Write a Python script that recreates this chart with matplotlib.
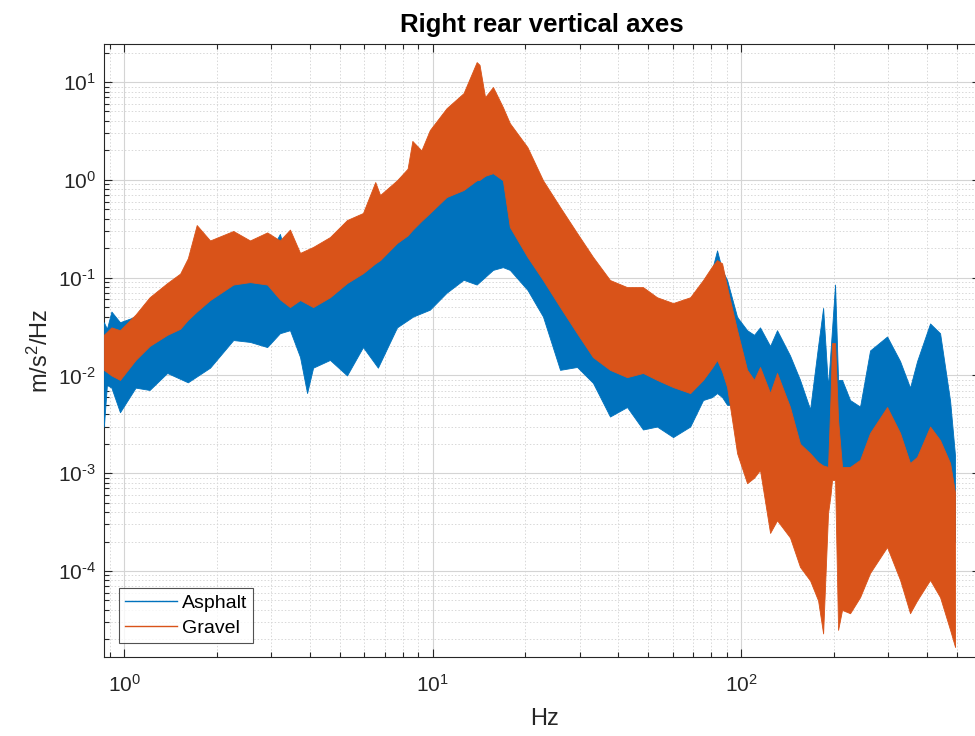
import matplotlib
matplotlib.use("Agg")
import matplotlib.pyplot as plt
from matplotlib.lines import Line2D
from matplotlib.ticker import LogLocator, NullFormatter, FixedLocator, FuncFormatter

plt.rcParams['font.family'] = ['Liberation Sans', 'DejaVu Sans']
plt.rcParams['mathtext.fontset'] = 'custom'
plt.rcParams['mathtext.rm'] = 'Liberation Sans'
plt.rcParams['mathtext.it'] = 'Liberation Sans:italic'
plt.rcParams['mathtext.bf'] = 'Liberation Sans:bold'

# ---- PSD envelopes (frequency in Hz, PSD in m/s^2/Hz) ----
asphalt_hz = [0.86, 0.88, 0.91, 0.97, 1.09, 1.21, 1.38, 1.61, 1.90, 2.26, 2.56, 2.91,
              3.20, 3.45, 3.72, 3.92, 4.10, 4.65, 5.28, 5.95, 6.65, 7.67, 8.65, 9.8,
              11.1, 12.6, 13.9, 15.7, 16.9, 17.8, 20.3, 22.8, 25.9, 29.4, 33.1, 37.6,
              42.7, 48.1, 53.4, 60.2, 68.4, 75.3, 80.5, 83.6, 86.8, 90.1, 97.1, 104.6,
              110.2, 115.2, 124.2, 130.8, 144.1, 155.3, 167.4, 177.7, 184.5, 191.4,
              197.2, 201.7, 206.3, 212.5, 225.6, 243.1, 261.9, 297.4, 327.7, 353.0,
              372.0, 409.9, 441.7, 476.0, 494.0]
asphalt_upper = [0.035, 0.030, 0.045, 0.035, 0.040, 0.047, 0.059, 0.075, 0.10, 0.106, 0.12, 0.16,
                 0.28, 0.12, 0.075, 0.07, 0.075, 0.095, 0.13, 0.16, 0.21, 0.30, 0.42, 0.62,
                 0.85, 1.05, 1.25, 1.35, 1.2, 0.9, 0.5, 0.28, 0.16, 0.10, 0.065, 0.045,
                 0.040, 0.040, 0.035, 0.032, 0.037, 0.06, 0.12, 0.19, 0.12, 0.0945, 0.0396, 0.029,
                 0.026, 0.031, 0.020, 0.029, 0.016, 0.009, 0.0045, 0.020, 0.049, 0.0076,
                 0.030, 0.085, 0.009, 0.009, 0.0056, 0.0048, 0.018, 0.025, 0.014, 0.0075,
                 0.014, 0.034, 0.027, 0.0055, 0.0015]
asphalt_lower = [0.003, 0.008, 0.0075, 0.0042, 0.0075, 0.0071, 0.0106, 0.0085, 0.012, 0.023, 0.022, 0.0195,
                 0.027, 0.029, 0.0154, 0.0066, 0.012, 0.0144, 0.0100, 0.0195, 0.012, 0.031, 0.040, 0.047,
                 0.070, 0.095, 0.085, 0.12, 0.128, 0.12, 0.075, 0.040, 0.0114, 0.0122, 0.0084, 0.0038,
                 0.00475, 0.0028, 0.0030, 0.00234, 0.0030, 0.0056, 0.006, 0.0066, 0.006, 0.005, 0.005, 0.003,
                 0.003, 0.003, 0.002, 0.002, 0.001, 0.0006, 0.0005, 0.0005, 0.0005, 0.0006,
                 0.002, 0.002, 0.001, 0.0004, 0.0004, 0.0004, 0.0006, 0.001, 0.0006, 0.0004,
                 0.0004, 0.0006, 0.0005, 0.0003, 0.0002]

gravel_hz = [0.86, 0.91, 0.97, 1.09, 1.21, 1.38, 1.52, 1.61, 1.72, 1.90, 2.26, 2.56,
             2.91, 3.20, 3.45, 3.72, 4.10, 4.65, 5.28, 5.95, 6.52, 6.76, 7.67, 8.3,
             8.6, 9.2, 9.8, 11.1, 12.6, 13.9, 14.2, 14.8, 15.7, 16.9, 17.8, 20.3,
             22.8, 25.9, 29.4, 33.1, 37.6, 42.7, 48.1, 53.4, 60.2, 68.4, 75.3, 80.5,
             83.6, 86.8, 90.1, 97.1, 104.6, 110.2, 115.2, 124.2, 130.8, 144.1, 155.3,
             167.4, 177.7, 184.5, 191.4, 195.0, 197.2, 201.7, 206.3, 212.5, 225.6,
             243.1, 261.9, 297.4, 327.7, 353.0, 372.0, 409.9, 441.7, 476.0, 494.0]
gravel_upper = [0.026, 0.031, 0.029, 0.042, 0.063, 0.088, 0.11, 0.158, 0.345, 0.24, 0.30, 0.24,
                0.29, 0.24, 0.31, 0.179, 0.206, 0.26, 0.388, 0.458, 0.95, 0.70, 0.99, 1.3,
                2.5, 2.0, 3.23, 5.4, 7.7, 16.0, 15.0, 7.0, 8.9, 5.55, 3.8, 2.16,
                0.99, 0.527, 0.286, 0.163, 0.0945, 0.080, 0.080, 0.063, 0.055, 0.063, 0.0945, 0.13,
                0.151, 0.14, 0.08, 0.029, 0.0114, 0.0090, 0.0122, 0.0066, 0.0106, 0.00475, 0.0020,
                0.0016, 0.0013, 0.0012, 0.00116, 0.006, 0.0214, 0.0214, 0.0035, 0.00116, 0.00116,
                0.00137, 0.00258, 0.00475, 0.00258, 0.00127, 0.00147, 0.0030, 0.00218, 0.00127, 0.00063]
gravel_lower = [0.0114, 0.010, 0.009, 0.0144, 0.020, 0.026, 0.030, 0.037, 0.045, 0.059, 0.085, 0.090,
                0.085, 0.06, 0.05, 0.059, 0.05, 0.063, 0.088, 0.111, 0.14, 0.151, 0.226, 0.27,
                0.307, 0.38, 0.458, 0.667, 0.787, 0.99, 1.0, 1.1, 1.17, 0.99, 0.33, 0.163,
                0.0945, 0.05, 0.027, 0.0154, 0.0114, 0.0096, 0.0106, 0.009, 0.0076, 0.0066, 0.009, 0.012,
                0.0144, 0.011, 0.0076, 0.0016, 0.00079, 0.0009, 0.00108, 0.000245, 0.00033, 0.00022, 0.00011,
                0.00008, 0.00005, 0.000023, 0.00039, 0.0006, 0.00085, 0.00085, 0.000025, 0.00004, 0.000037,
                0.000054, 0.0000955, 0.000176, 0.000081, 0.000037, 0.00005, 0.000081, 0.000054, 0.000025, 0.0000167]

labels = ['Asphalt', 'Gravel']
colors = ['#0072BD', '#D95319']
x_decades = [0, 1, 2]
y_decades = [-4, -3, -2, -1, 0, 1]
dark = '#262626'


def decade_label(v, pos):
    # powers of ten with a plain hyphen in the exponent
    e = int(round(__import__('math').log10(v)))
    exp = (r'\text{-}%d' % -e) if e < 0 else '%d' % e
    return r'$\mathdefault{10^{%s}}$' % exp


fig = plt.figure(figsize=(9.75, 7.36), dpi=100)
ax = fig.add_axes([104 / 975, 79 / 736, 876 / 975, 613 / 736])

ax.fill_between(asphalt_hz, asphalt_lower, asphalt_upper, facecolor=colors[0],
                edgecolor=colors[0], linewidth=0.6, zorder=3)
ax.fill_between(gravel_hz, gravel_lower, gravel_upper, facecolor=colors[1],
                edgecolor=colors[1], linewidth=0.6, zorder=4)

ax.set_xscale('log')
ax.set_yscale('log')
ax.set_xlim(0.861, 595)
ax.set_ylim(1.32e-5, 24.5)

ax.xaxis.set_major_locator(FixedLocator([10.0 ** d for d in x_decades]))
ax.yaxis.set_major_locator(FixedLocator([10.0 ** d for d in y_decades]))
ax.xaxis.set_major_formatter(FuncFormatter(decade_label))
ax.yaxis.set_major_formatter(FuncFormatter(decade_label))
ax.xaxis.set_minor_locator(LogLocator(base=10, subs=range(2, 10), numticks=50))
ax.yaxis.set_minor_locator(LogLocator(base=10, subs=range(2, 10), numticks=50))
ax.xaxis.set_minor_formatter(NullFormatter())
ax.yaxis.set_minor_formatter(NullFormatter())

ax.grid(True, which='major', color='#d4d4d4', linewidth=0.8, linestyle='-', zorder=0)
ax.grid(True, which='minor', color='#d8d8d8', linewidth=0.7, linestyle=(0, (1.5, 2)), zorder=0)
ax.set_axisbelow(True)

ax.tick_params(which='both', direction='in', top=True, right=True, colors=dark,
               labelcolor=dark, width=0.8)
ax.tick_params(which='major', length=6, labelsize=15)
ax.tick_params(which='minor', length=3.5)
ax.tick_params(axis='x', which='major', pad=12)
ax.tick_params(axis='y', which='major', pad=6)
for sp in ax.spines.values():
    sp.set_color(dark)
    sp.set_linewidth(0.8)

ax.set_title('Right rear vertical axes', fontsize=18.5, fontweight='bold', color='black', pad=8.6)
ax.set_xlabel('Hz', fontsize=17, color=dark)
ax.set_ylabel(r'm/s$^2$/Hz', fontsize=17, color=dark)
ax.xaxis.set_label_coords((545 - 104) / 876, -0.083)
ax.yaxis.set_label_coords(-0.058, 0.5)

handles = [Line2D([], [], color=c, linewidth=1.0) for c in colors]
leg = ax.legend(handles, labels, loc='lower left', bbox_to_anchor=(0.0172, 0.0228),
                borderaxespad=0, fontsize=14, frameon=True, fancybox=False,
                handlelength=2.7, handletextpad=0.25, labelspacing=0.4,
                borderpad=0.3)
leg.get_frame().set_edgecolor(dark)
leg.get_frame().set_linewidth(0.8)
leg.set_zorder(10)

fig.savefig('out.png', dpi=100)
